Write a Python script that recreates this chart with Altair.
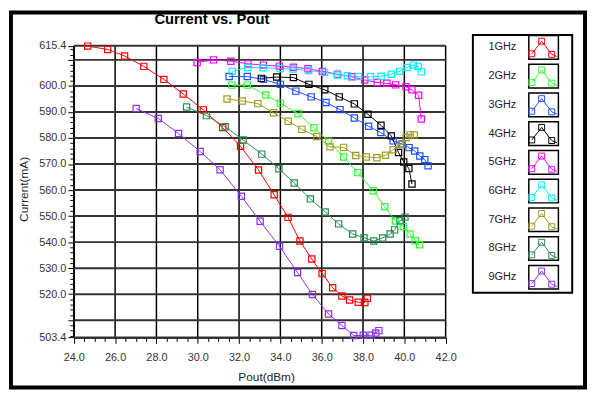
import altair as alt
import pandas as pd

freqs = ["1GHz", "2GHz", "3GHz", "4GHz", "5GHz", "6GHz", "7GHz", "8GHz", "9GHz"]
colors = ["#ff0000", "#33ff33", "#1f4fff", "#000000", "#ff00ff", "#00f0ff", "#a09a20", "#2a8a55", "#8c30f0"]

pout_1 = [24.67, 25.64, 26.46, 27.39, 28.36, 29.30, 30.27, 31.21, 32.07, 32.94, 33.70, 34.37, 34.95, 35.52, 36.02, 36.53, 36.98, 37.35, 37.77, 38.09, 38.21]
cur_1 = [615.3, 614.0, 611.5, 607.5, 602.5, 596.9, 590.8, 584.0, 576.8, 567.7, 558.2, 549.5, 540.4, 533.5, 527.9, 522.5, 519.3, 517.8, 516.9, 516.8, 518.4]

pout_2 = [31.65, 32.40, 33.29, 34.00, 34.85, 35.62, 36.33, 37.06, 37.75, 38.50, 39.05, 39.57, 39.95, 40.28, 40.53, 40.74]
cur_2 = [600.3, 600.3, 596.5, 593.4, 589.4, 583.9, 578.8, 572.7, 566.7, 559.7, 553.6, 548.1, 546.0, 543.1, 540.5, 539.0]

pout_3 = [31.52, 32.40, 33.18, 34.00, 34.75, 35.49, 36.21, 36.89, 37.58, 38.27, 38.86, 39.46, 39.89, 40.23, 40.50, 40.75, 40.99, 41.15]
cur_3 = [603.6, 603.6, 602.5, 600.6, 598.0, 595.8, 593.6, 590.9, 587.7, 584.5, 582.1, 578.9, 577.7, 576.3, 575.0, 573.1, 571.7, 569.3]

pout_4 = [33.08, 33.82, 34.63, 35.38, 36.15, 36.85, 37.58, 38.24, 38.87, 39.37, 39.72, 39.97, 40.22, 40.37]
cur_4 = [602.9, 603.4, 603.2, 600.6, 598.5, 595.8, 593.1, 589.1, 584.9, 580.8, 574.4, 570.8, 568.3, 562.3]

pout_5 = [29.97, 30.76, 31.60, 32.43, 33.18, 33.95, 34.63, 35.34, 36.03, 36.76, 37.46, 38.08, 38.69, 39.15, 39.58, 40.08, 40.37, 40.69, 40.82]
cur_5 = [609.0, 610.0, 609.5, 608.5, 608.0, 607.6, 607.2, 606.6, 605.6, 604.5, 603.5, 602.3, 601.3, 601.0, 600.4, 599.7, 598.5, 596.4, 587.3]

pout_6 = [31.67, 32.42, 33.16, 34.00, 34.61, 35.37, 36.14, 36.78, 37.24, 37.78, 38.36, 38.88, 39.37, 39.77, 40.13, 40.44, 40.67, 40.82]
cur_6 = [605.6, 607.1, 607.0, 606.7, 606.5, 605.9, 605.2, 604.2, 603.9, 603.6, 603.5, 603.7, 604.5, 605.6, 607.1, 608.0, 607.5, 605.4]

pout_7 = [31.42, 32.16, 32.91, 33.67, 34.38, 35.04, 35.76, 36.40, 37.06, 37.65, 38.16, 38.67, 39.09, 39.46, 39.84, 40.09, 40.28, 40.48]
cur_7 = [595.0, 594.2, 593.2, 589.7, 586.4, 583.3, 580.6, 576.6, 576.4, 573.3, 572.7, 572.4, 573.4, 575.5, 577.5, 580.2, 581.2, 581.2]

pout_8 = [29.46, 30.42, 31.33, 32.20, 33.10, 33.93, 34.67, 35.45, 36.17, 36.82, 37.50, 38.05, 38.52, 38.95, 39.31, 39.53, 39.79, 40.03]
cur_8 = [591.9, 588.6, 584.3, 579.2, 573.8, 568.2, 562.7, 556.6, 551.6, 547.0, 543.1, 541.7, 540.4, 541.6, 543.1, 544.7, 548.2, 549.6]

pout_9 = [27.02, 28.09, 29.07, 30.12, 31.08, 32.11, 33.02, 33.96, 34.83, 35.55, 36.33, 36.98, 37.55, 38.01, 38.39, 38.62, 38.77]
cur_9 = [591.3, 587.5, 581.7, 574.8, 567.8, 557.6, 548.0, 538.4, 528.3, 519.9, 512.4, 508.0, 504.1, 504.2, 504.2, 505.1, 506.0]

x_grid = [24, 26, 28, 30, 32, 34, 36, 38, 40, 42]
y_grid = [503.4, 510, 520, 530, 540, 550, 560, 570, 580, 590, 600, 610, 615.4]
x_tick_values = [24 + 0.5 * i for i in range(37)]
y_tick_values = [503.4] + list(range(504, 615, 2)) + [615.4]

title_text = "Current vs. Pout"
x_title = "Pout(dBm)"
y_title = "Current(mA)"

FONT = "Liberation Sans"

pouts = [pout_1, pout_2, pout_3, pout_4, pout_5, pout_6, pout_7, pout_8, pout_9]
currents = [cur_1, cur_2, cur_3, cur_4, cur_5, cur_6, cur_7, cur_8, cur_9]
rows = []
for f, xs_, ys_ in zip(freqs, pouts, currents):
    for a, b in zip(xs_, ys_):
        rows.append({"freq": f, "pout": a, "current": b})
df = pd.DataFrame(rows)

xscale = alt.Scale(domain=[24, 42], range=[63.7, 440.7], nice=False, zero=False)
yscale = alt.Scale(domain=[503.4, 615.4], range=[329.3, 33.7], nice=False, zero=False)
cscale = alt.Scale(domain=freqs, range=colors)

x_axis = alt.Axis(
    values=x_tick_values, grid=False, title=None, offset=-50.7,
    labelExpr="datum.value % 2 == 0 ? format(datum.value, '.1f') : ''",
    tickSize={"condition": {"test": "datum.value % 2 == 0", "value": 6}, "value": 4},
    tickColor="black", tickWidth=1, domainColor="black", domainWidth=1.5,
    labelFont=FONT, labelFontSize=11, labelColor="#333333", labelPadding=8,
    labelFlush=False, labelOverlap=False,
)
y_axis = alt.Axis(
    values=y_tick_values, grid=False, title=None, offset=-63.7,
    labelExpr="((datum.value % 10 == 0) && datum.value != 510 && datum.value != 610) || datum.value < 503.5 || datum.value > 615 ? format(datum.value, '.1f') : ''",
    tickSize={"condition": {"test": "datum.value % 10 == 0 || datum.value < 503.5 || datum.value > 615", "value": 6}, "value": 4},
    tickColor="black", tickWidth=1, domainColor="black", domainWidth=1.5,
    labelFont=FONT, labelFontSize=11, labelColor="#333333", labelPadding=2,
    labelFlush=False, labelOverlap=False,
)

vgrid = alt.Chart(pd.DataFrame({"v": x_grid})).mark_rule(color="black", strokeWidth=1.5).encode(
    x=alt.X("v:Q", scale=xscale, axis=x_axis),
    y=alt.value(33.7), y2=alt.value(329.3),
)
hgrid = alt.Chart(pd.DataFrame({"v": y_grid})).mark_rule(color="#333333", strokeWidth=2).encode(
    y=alt.Y("v:Q", scale=yscale, axis=y_axis),
    x=alt.value(63.7), x2=alt.value(440.7),
)

base = alt.Chart(df)
enc = dict(
    x=alt.X("pout:Q", scale=xscale, axis=x_axis),
    y=alt.Y("current:Q", scale=yscale, axis=y_axis),
    color=alt.Color("freq:N", scale=cscale, legend=None),
)
lines = base.mark_line(strokeWidth=1).encode(**enc)
points = base.mark_point(shape="square", filled=False, size=40, strokeWidth=1.2, opacity=1).encode(**enc)

main = alt.layer(vgrid, hgrid, lines, points)

# legend + annotations
legend_df = pd.DataFrame({"freq": freqs})
ly = alt.Y("freq:N", scale=alt.Scale(type="point", domain=freqs, range=[35.3, 268.3], padding=0), axis=None)
one = pd.DataFrame({"k": [0]})

legend_box = alt.Chart(one).mark_rect(fill="white", stroke="black", strokeWidth=2).encode(
    x=alt.value(468.3), x2=alt.value(569), y=alt.value(22.7), y2=alt.value(284)
)
box_path = "M-1,-0.8H1V0.8H-1Z"
caret_path = ("M-0.8,0.43L-0.13,-0.42L0.55,0.47L0.9,0.62 "
              "M-1,0.23h0.4v0.4h-0.4z M-0.33,-0.62h0.4v0.4h-0.4z M0.35,0.27h0.4v0.4h-0.4z")
swatch = alt.Chart(legend_df).mark_point(shape=box_path, filled=False, color="black", strokeWidth=1.5, size=900, opacity=1).encode(
    x=alt.value(540), y=ly
)
caret = alt.Chart(legend_df).mark_point(shape=caret_path, filled=False, size=900, strokeWidth=1, opacity=1).encode(
    x=alt.value(540), y=ly, color=alt.Color("freq:N", scale=cscale, legend=None)
)
labels = alt.Chart(legend_df).mark_text(align="right", baseline="middle", font=FONT, fontSize=11, color="#222222").encode(
    x=alt.value(512.3), y=ly, text="freq:N"
)
title = alt.Chart(one).mark_text(text=title_text, align="center", baseline="alphabetic", font=FONT, fontSize=15, fontWeight="bold", color="black").encode(
    x=alt.value(203.7), y=alt.value(11.5)
)
xtitle = alt.Chart(one).mark_text(text=x_title, align="center", baseline="alphabetic", font=FONT, fontSize=12, color="#222222").encode(
    x=alt.value(259.2), y=alt.value(373.5)
)
ytitle = alt.Chart(one).mark_text(text=y_title, align="center", baseline="middle", angle=270, font=FONT, fontSize=12, color="#222222").encode(
    x=alt.value(13.7), y=alt.value(179.2)
)

legend = alt.layer(legend_box, swatch, caret, labels, title, xtitle, ytitle)

chart = alt.layer(main, legend).resolve_scale(x="independent", y="independent").properties(
    width=582, height=380,
    padding={"left": 3, "top": 2, "right": 2, "bottom": 2},
    autosize=alt.AutoSizeParams(type="none"),
    background="white",
).configure_view(stroke="black", strokeWidth=4)

chart.save("out.html", embed_options={"renderer": "svg", "actions": False})
